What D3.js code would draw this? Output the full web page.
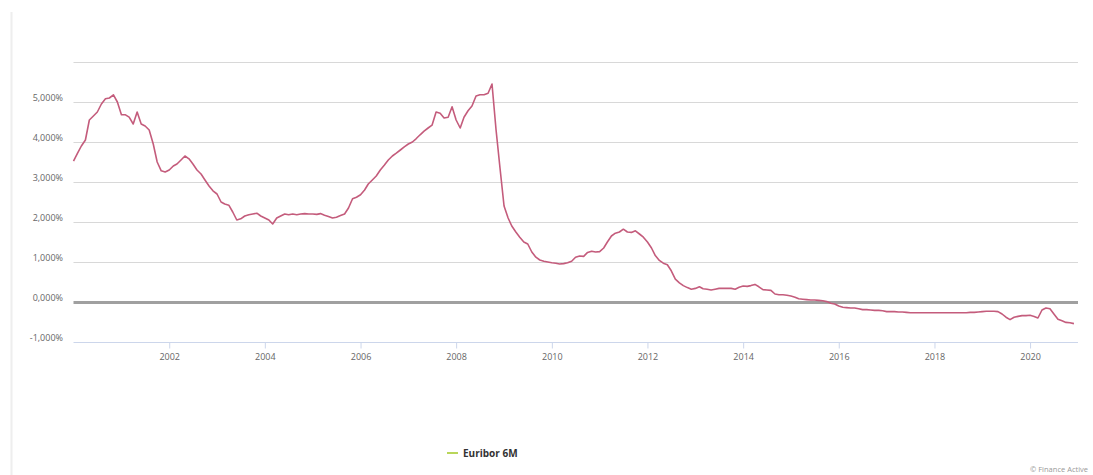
<!DOCTYPE html>
<html>
<head>
<meta charset="utf-8">
<script src="https://cdn.jsdelivr.net/npm/d3@7"></script>
<style>
  body { margin: 0; background: #fff; }
  svg { display: block; font-family: "Open Sans", "Noto Sans", sans-serif; }
</style>
</head>
<body>
<svg width="1093" height="475"></svg>
<script>
// Euribor 6M, valeurs mensuelles (en %)
const years = d3.range(2000, 2021);
const rates = [
  // 2000
  3.52, 3.72, 3.90, 4.05, 4.55, 4.65, 4.75, 4.95, 5.08, 5.10, 5.18, 5.00,
  // 2001
  4.68, 4.68, 4.62, 4.45, 4.75, 4.45, 4.40, 4.30, 3.95, 3.50, 3.28, 3.25,
  // 2002
  3.30, 3.40, 3.45, 3.55, 3.65, 3.58, 3.45, 3.30, 3.20, 3.05, 2.90, 2.78,
  // 2003
  2.70, 2.50, 2.45, 2.42, 2.25, 2.05, 2.08, 2.15, 2.18, 2.20, 2.22, 2.15,
  // 2004
  2.10, 2.05, 1.95, 2.10, 2.15, 2.20, 2.18, 2.20, 2.18, 2.20, 2.21, 2.20,
  // 2005
  2.20, 2.19, 2.21, 2.17, 2.14, 2.10, 2.12, 2.16, 2.20, 2.35, 2.58, 2.62,
  // 2006
  2.68, 2.80, 2.95, 3.05, 3.15, 3.30, 3.42, 3.55, 3.65, 3.72, 3.80, 3.88,
  // 2007
  3.95, 4.00, 4.08, 4.18, 4.27, 4.35, 4.42, 4.75, 4.72, 4.60, 4.62, 4.88,
  // 2008
  4.55, 4.35, 4.62, 4.78, 4.90, 5.15, 5.18, 5.18, 5.22, 5.45, 4.30, 3.35,
  // 2009
  2.40, 2.10, 1.90, 1.75, 1.62, 1.50, 1.45, 1.25, 1.12, 1.05, 1.02, 1.00,
  // 2010
  0.98, 0.97, 0.95, 0.96, 0.98, 1.02, 1.12, 1.15, 1.14, 1.24, 1.27, 1.25,
  // 2011
  1.26, 1.35, 1.50, 1.65, 1.72, 1.75, 1.82, 1.75, 1.74, 1.78, 1.70, 1.62,
  // 2012
  1.50, 1.35, 1.16, 1.04, 0.97, 0.93, 0.78, 0.57, 0.48, 0.41, 0.36, 0.32,
  // 2013
  0.34, 0.38, 0.33, 0.32, 0.30, 0.32, 0.34, 0.34, 0.34, 0.34, 0.32, 0.37,
  // 2014
  0.40, 0.39, 0.41, 0.44, 0.38, 0.31, 0.30, 0.29, 0.20, 0.18, 0.18, 0.17,
  // 2015
  0.15, 0.12, 0.08, 0.07, 0.06, 0.05, 0.05, 0.04, 0.03, 0.01, -0.03, -0.05,
  // 2016
  -0.10, -0.13, -0.14, -0.15, -0.15, -0.17, -0.19, -0.19, -0.20, -0.21, -0.21, -0.22,
  // 2017
  -0.24, -0.24, -0.24, -0.25, -0.25, -0.26, -0.27, -0.27, -0.27, -0.27, -0.27, -0.27,
  // 2018
  -0.27, -0.27, -0.27, -0.27, -0.27, -0.27, -0.27, -0.27, -0.27, -0.26, -0.26, -0.25,
  // 2019
  -0.24, -0.23, -0.23, -0.23, -0.24, -0.30, -0.38, -0.44, -0.38, -0.36, -0.34, -0.34,
  // 2020
  -0.33, -0.36, -0.40, -0.20, -0.15, -0.17, -0.30, -0.43, -0.47, -0.51, -0.52, -0.54
];
const yTicks = [-1, 0, 1, 2, 3, 4, 5];
const gridTicks = [1, 2, 3, 4, 5, 6];
const xTickYears = d3.range(2002, 2021, 2);
const seriesName = "Euribor 6M";

const data = rates.map((v, i) => ({
  date: new Date(years[0] + Math.floor(i / 12), i % 12, 1),
  value: v
}));

const svg = d3.select("svg");
const plotLeft = 73.5, plotRight = 1078, plotTop = 62, plotBottom = 342;

const x = d3.scaleTime()
  .domain([new Date(2000, 0, 1), new Date(2021, 0, 1)])
  .range([plotLeft, plotRight]);
const y = d3.scaleLinear().domain([-1, 6]).range([plotBottom, plotTop]);

// cadre gauche
svg.append("line")
  .attr("x1", 11.5).attr("x2", 11.5).attr("y1", 12).attr("y2", 475)
  .attr("stroke", "#eeeeee").attr("stroke-width", 2);

// grille
svg.append("g").selectAll("line")
  .data(gridTicks)
  .join("line")
  .attr("x1", plotLeft).attr("x2", plotRight)
  .attr("y1", d => Math.round(y(d)) + 0.5).attr("y2", d => Math.round(y(d)) + 0.5)
  .attr("stroke", "#d8d8d8").attr("stroke-width", 1.2);

// libellés axe Y
const fmt = d => d3.format(".3f")(d).replace(".", ",").replace("−", "-") + "%";
svg.append("g").selectAll("text")
  .data(yTicks)
  .join("text")
  .attr("x", 63)
  .attr("y", d => y(d) - 1)
  .attr("text-anchor", "end")
  .attr("font-size", 9)
  .attr("fill", "#666")
  .text(fmt);

// axe X
const xAxis = svg.append("g")
  .attr("transform", `translate(0,${plotBottom + 0.5})`)
  .call(d3.axisBottom(x)
    .tickValues(xTickYears.map(yr => new Date(yr, 0, 1)))
    .tickFormat(d3.timeFormat("%Y"))
    .tickSize(6)
    .tickPadding(5));
xAxis.select(".domain").attr("stroke", "#ccd6eb").attr("d", `M${plotLeft},0H${plotRight}`);
xAxis.selectAll(".tick line").attr("stroke", "#ccd6eb");
xAxis.selectAll(".tick text")
  .attr("fill", "#666")
  .attr("font-size", 9)
  .attr("font-family", "\"Open Sans\", sans-serif");

// ligne zéro
svg.append("line")
  .attr("x1", plotLeft).attr("x2", plotRight)
  .attr("y1", y(0) + 0.5).attr("y2", y(0) + 0.5)
  .attr("stroke", "#a0a0a0").attr("stroke-width", 3);

// série
const line = d3.line()
  .x(d => x(d.date))
  .y(d => y(d.value));
svg.append("path")
  .datum(data)
  .attr("d", line)
  .attr("fill", "none")
  .attr("stroke", "#c45c7c")
  .attr("stroke-width", 1.6)
  .attr("stroke-linejoin", "round");

// légende
svg.append("line")
  .attr("x1", 447).attr("x2", 458).attr("y1", 453).attr("y2", 453)
  .attr("stroke", "#b9d65a").attr("stroke-width", 2);
svg.append("text")
  .attr("x", 463).attr("y", 456.5)
  .attr("font-size", 10)
  .attr("font-weight", "bold")
  .attr("fill", "#333")
  .text(seriesName);

// crédits
svg.append("text")
  .attr("x", 1088).attr("y", 472)
  .attr("text-anchor", "end")
  .attr("font-size", 7.5)
  .attr("fill", "#999")
  .text("© Finance Active");
</script>
</body>
</html>
